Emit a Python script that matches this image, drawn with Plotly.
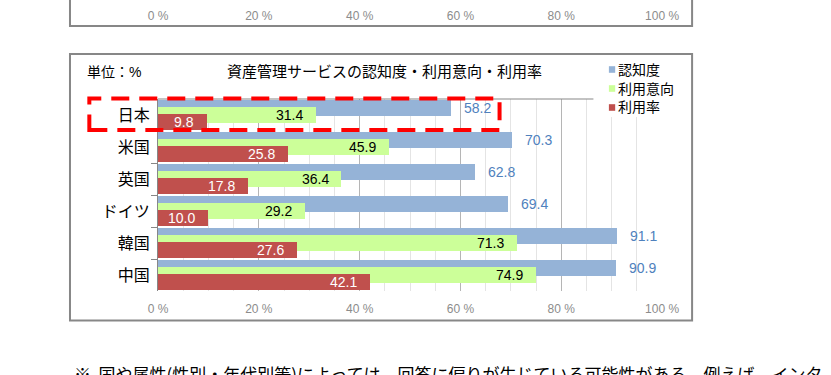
import plotly.graph_objects as go

# ---------------- data ----------------
categories = ["日本", "米国", "英国", "ドイツ", "韓国", "中国"]
awareness = [58.2, 70.3, 62.8, 69.4, 91.1, 90.9]      # 認知度
intention = [31.4, 45.9, 36.4, 29.2, 71.3, 74.9]      # 利用意向
usage = [9.8, 25.8, 17.8, 10.0, 27.6, 42.1]           # 利用率
series_names = ["認知度", "利用意向", "利用率"]
x_tick_start, x_tick_step = 0, 20
title_text = "資産管理サービスの認知度・利用意向・利用率"
unit_text = "単位：%"
note_text = "※  国や属性(性別・年代別等)によっては、回答に偏りが生じている可能性がある。例えば、インタ"

# ---------------- style ----------------
series_values = [awareness, intention, usage]
series_colors = ["#95B3D7", "#CCFF99", "#C0504D"]
label_colors = ["#4F81BD", "#000000", "#FFFFFF"]
bar_offsets = [-0.47, -0.25, -0.03]
bar_width = 0.5
label_yshift = [7, 0, -7]

FONT = "Arial, 'Liberation Sans', 'Noto Sans CJK JP', sans-serif"
GRAY = "#878787"
W, H = 831, 375


def px(x):
    return x / W


def py(y):
    return 1 - y / H


PL, PR, PT, PB = 153, 674, 99, 291

fig = go.Figure()

for name, vals, col, off in zip(series_names, series_values, series_colors, bar_offsets):
    fig.add_trace(go.Bar(
        y=categories, x=vals, orientation="h", name=name,
        marker=dict(color=col, line=dict(width=0)),
        width=bar_width, offset=off, showlegend=False,
        hovertemplate=name + " %{y}: %{x}<extra></extra>",
    ))

# dummy trace for the upper (cropped) chart axis
fig.add_trace(go.Scatter(x=[None], y=[None], xaxis="x2", yaxis="y2",
                         showlegend=False, hoverinfo="skip"))

# data labels
for si, vals in enumerate(series_values):
    for cat, v in zip(categories, vals):
        outside = si == 0
        fig.add_annotation(
            x=v, y=cat, xref="x", yref="y", text=f"{v:.1f}", showarrow=False,
            xanchor="left" if outside else "right", yanchor="middle",
            xshift=11 if outside else -11, yshift=label_yshift[si],
            font=dict(size=14, color=label_colors[si], family=FONT),
        )

shapes = []
# plot top line
shapes.append(dict(type="line", xref="x domain", yref="y domain", x0=0, x1=1, y0=1, y1=1,
                   line=dict(color=GRAY, width=1), layer="above"))
# legend white box
shapes.append(dict(type="rect", xref="paper", yref="paper", x0=px(603), x1=px(700),
                   y0=py(117), y1=py(58), fillcolor="white", line=dict(width=0), layer="above"))
# legend entries
leg_y = [69.5, 88.5, 107.5]
for name, col, ly in zip(series_names, series_colors, leg_y):
    shapes.append(dict(type="rect", xref="paper", yref="paper", x0=px(619), x1=px(625.5),
                       y0=py(ly + 3.3), y1=py(ly - 3.3), fillcolor=col, line=dict(width=0),
                       layer="above"))
    fig.add_annotation(x=px(626), y=py(ly), xref="paper", yref="paper", text=name,
                       showarrow=False, xanchor="left", yanchor="middle",
                       font=dict(size=14, color="#000000", family=FONT))

# chart borders
shapes.append(dict(type="rect", xref="paper", yref="paper", x0=px(62), x1=px(705),
                   y0=py(320.5), y1=py(54), line=dict(color=GRAY, width=2), layer="above"))
shapes.append(dict(type="rect", xref="paper", yref="paper", x0=px(62), x1=px(705),
                   y0=py(26), y1=py(-20), line=dict(color=GRAY, width=2), layer="above"))
# red dashed highlight
shapes.append(dict(type="rect", xref="paper", yref="paper", x0=px(82), x1=px(506),
                   y0=py(130), y1=py(98.5), line=dict(color="#FF0000", width=4, dash="18px,10px"),
                   layer="above"))

# title, unit and note
fig.add_annotation(x=px(387), y=py(72), xref="paper", yref="paper", text=title_text,
                   showarrow=False, xanchor="center", yanchor="middle",
                   font=dict(size=15, color="#000000", family=FONT))
fig.add_annotation(x=px(78), y=py(72), xref="paper", yref="paper", text=unit_text,
                   showarrow=False, xanchor="left", yanchor="middle",
                   font=dict(size=14, color="#000000", family=FONT))
fig.add_annotation(x=px(64), y=py(358.5), xref="paper", yref="paper", text=note_text,
                   showarrow=False, xanchor="left", yanchor="top",
                   font=dict(size=17, color="#000000", family="'Noto Sans CJK JP', sans-serif"))

xaxis_common = dict(
    range=[0, 100], tickmode="linear", tick0=x_tick_start, dtick=x_tick_step,
    ticksuffix=" %", ticks="", zeroline=False, showline=False,
    tickfont=dict(size=12, color="#8C8C8C", family=FONT),
    domain=[px(PL), px(PR)], fixedrange=True,
)

fig.update_layout(
    width=W, height=H,
    margin=dict(l=0, r=0, t=0, b=0),
    paper_bgcolor="white", plot_bgcolor="white",
    barmode="overlay", bargap=0,
    font=dict(family=FONT),
    showlegend=False,
    xaxis=dict(**xaxis_common, anchor="y",
               showgrid=True, gridcolor="#B5B5B5", gridwidth=1,
               minor=dict(tickmode="linear", tick0=0, dtick=5, showgrid=True,
                          gridcolor="#E4E4E4", gridwidth=1),
               ticklabelstandoff=9),
    yaxis=dict(domain=[py(PB), py(PT)], categoryorder="array", categoryarray=categories,
               range=[len(categories) - 0.5, -0.5], showgrid=False, zeroline=False,
               showline=True, linecolor=GRAY, linewidth=1,
               ticks="outside", tickson="boundaries", ticklen=6, tickcolor=GRAY,
               tickfont=dict(size=16, color="#000000", family=FONT),
               ticklabelstandoff=4, fixedrange=True),
    xaxis2=dict(**xaxis_common, anchor="y2", showgrid=False),
    yaxis2=dict(domain=[py(7), 1], visible=False, range=[0, 1], fixedrange=True),
    shapes=shapes,
)

fig.write_html(
    "out.html",
    config={"displayModeBar": False},
    post_script="document.body.style.margin='0';document.documentElement.style.overflow='hidden';",
)
